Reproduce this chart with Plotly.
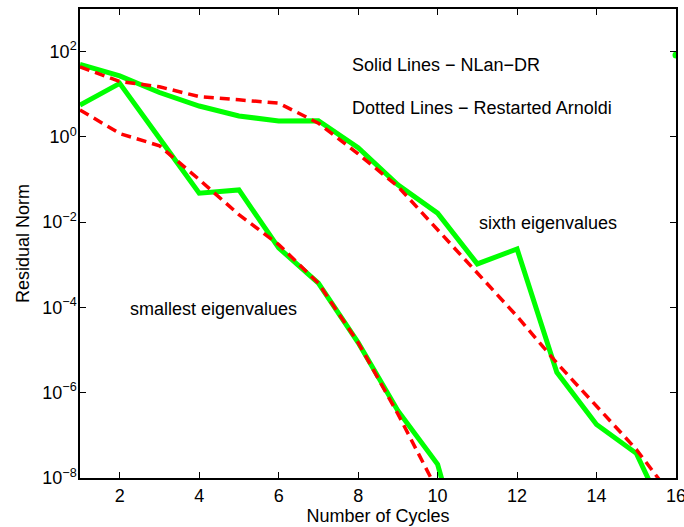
import plotly.graph_objects as go

cycles = [1, 2, 3, 4, 5, 6, 7, 8, 9, 10, 11, 12, 13, 14, 15, 16]
sixth_nlan = [50, 27, 11, 5.3, 3.1, 2.36, 2.4, 0.56, 0.075, 0.0163, 1.05e-3, 2.35e-3, 3e-6, 1.8e-7, 3.8e-8, 4e-10]
sixth_arnoldi = [44, 20, 15, 8.8, 7.4, 6.2, 2.1, 0.4, 0.069, 6.6e-3, 6.4e-4, 6.2e-5, 5e-6, 4.8e-7, 4.7e-8, 2.8e-9]
small_cycles = [1, 2, 3, 4, 5, 6, 7, 8, 9, 10, 11]
small_nlan = [5.6, 18, 0.93, 0.048, 0.057, 2.5e-3, 3.7e-4, 1.5e-5, 3.8e-7, 2.1e-8, 1e-11]
small_arnoldi = [4.3, 1.2, 0.62, 0.1, 0.015, 3e-3, 3.7e-4, 1.5e-5, 3.2e-7, 5e-9, 1e-11]
extra_x = [16]
extra_y = [83]

xticks = [2, 4, 6, 8, 10, 12, 14, 16]
yticks = [1e-8, 1e-6, 1e-4, 1e-2, 1e0, 1e2]
ytext = ["10<sup>\u22128</sup>", "10<sup>\u22126</sup>", "10<sup>\u22124</sup>", "10<sup>\u22122</sup>", "10<sup>0</sup>", "10<sup>2</sup>"]

GREEN = "rgb(0,255,0)"
RED = "rgb(255,0,0)"
FONT = "Liberation Sans, Arial, sans-serif"
FS = 18

fig = go.Figure()
fig.add_trace(go.Scatter(x=cycles, y=sixth_nlan, mode="lines", line=dict(color=GREEN, width=5)))
fig.add_trace(go.Scatter(x=small_cycles, y=small_nlan, mode="lines", line=dict(color=GREEN, width=5)))
fig.add_trace(go.Scatter(x=cycles, y=sixth_arnoldi, mode="lines", line=dict(color=RED, width=3.5, dash="10px,6px")))
fig.add_trace(go.Scatter(x=small_cycles, y=small_arnoldi, mode="lines", line=dict(color=RED, width=3.5, dash="10px,6px")))
fig.add_trace(go.Scatter(x=extra_x, y=extra_y, mode="markers", marker=dict(color=GREEN, size=7), cliponaxis=True))

annots = [
    ("Solid Lines \u2212 NLan\u2212DR", 7.80, 1.69),
    ("Dotted Lines \u2212 Restarted Arnoldi", 7.80, 0.68),
    ("sixth eigenvalues", 10.98, -2.01),
    ("smallest eigenvalues", 2.21, -4.04),
]
for t, ax, ay in annots:
    fig.add_annotation(x=ax, y=ay, xref="x", yref="y", text=t, showarrow=False,
                       xanchor="left", yanchor="middle", font=dict(size=FS, color="black", family=FONT))

axis_common = dict(showgrid=False, zeroline=False, showline=True, linecolor="black", linewidth=1.5,
                   mirror="ticks", ticks="inside", ticklen=6, tickcolor="black", tickwidth=1,
                   automargin=False, ticklabeloverflow="allow",
                   tickfont=dict(size=FS, color="black", family=FONT))
fig.update_xaxes(range=[1, 16], tickvals=xticks, ticktext=[str(v) for v in xticks],
                 title=dict(text="Number of Cycles", font=dict(size=FS, color="black", family=FONT), standoff=0),
                 ticklabelstandoff=1, **axis_common)
fig.update_yaxes(type="log", range=[-8, 3], tickvals=yticks, ticktext=ytext,
                 title=dict(text="Residual Norm", font=dict(size=FS, color="black", family=FONT), standoff=8),
                 ticklabelstandoff=-2, **axis_common)
fig.update_layout(width=684, height=527, margin=dict(l=79.5, r=7.5, t=9, b=48.5),
                  plot_bgcolor="white", paper_bgcolor="white", showlegend=False)
fig.write_html("out.html")
